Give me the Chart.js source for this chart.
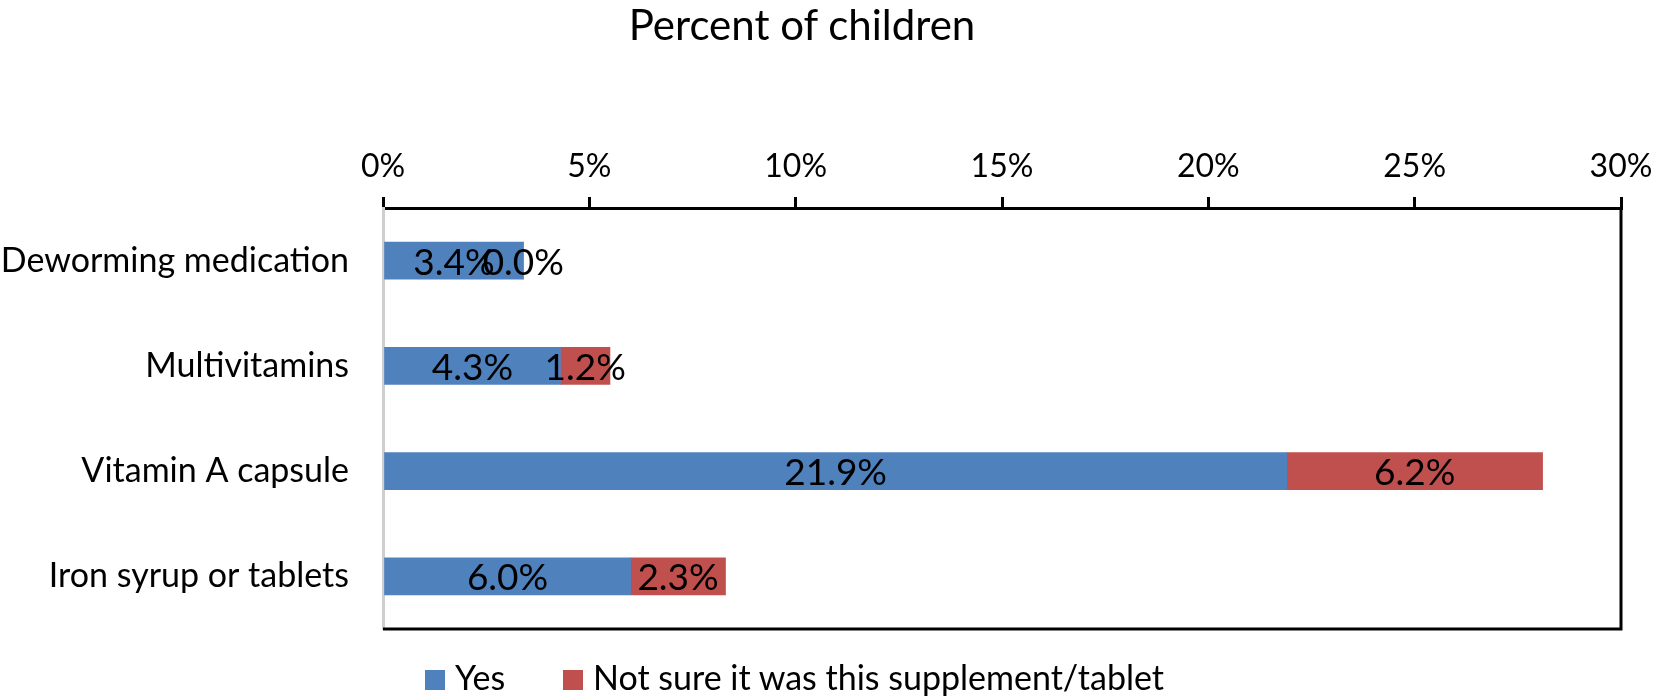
<!DOCTYPE html>
<html lang="en">

<head>
    <meta charset="UTF-8">
    <title>Supplements</title>
    <style>
        body {
            margin: 0;
            background: #fff;
            font-family: Lato, sans-serif;
        }

        .wrap {
            position: relative;
            width: 1654px;
            height: 700px;
        }

        .title {
            position: absolute;
            top: 0;
            left: 802px;
            transform: translateX(-50%);
            font-size: 42px;
            line-height: 48px;
            white-space: nowrap;
        }

        .legend .item {
            position: absolute;
            top: 657px;
            font-size: 34px;
            line-height: 40px;
            white-space: nowrap;
        }

        .legend span.box {
            display: inline-block;
            width: 20px;
            height: 20px;
            margin-right: 10px;
        }
    </style>
    <script src="https://cdn.jsdelivr.net/npm/chart.js"></script>
</head>

<body>
    <div class="wrap">
        <canvas id="chart" width="1654" height="700"></canvas>
        <div class="title">Percent of children</div>
        <div class="legend" id="legend"></div>
    </div>

    <script>
        const categories = ['Deworming medication', 'Multivitamins', 'Vitamin A capsule', 'Iron syrup or tablets'];
        const yesValues = [3.4, 4.3, 21.9, 6.0];
        const notSureValues = [0.0, 1.2, 6.2, 2.3];
        const seriesNames = ['Yes', 'Not sure it was this supplement/tablet'];
        const seriesColors = ['#4F81BD', '#C0504D'];
        const xTicks = [0, 5, 10, 15, 20, 25, 30];
        const legendLeft = [425, 563];

        // bar labels, drawn in the middle of each segment
        const barLabels = {
            id: 'barLabels',
            afterDatasetsDraw(chart) {
                const ctx = chart.ctx;
                ctx.save();
                ctx.font = '37px Lato';
                ctx.fillStyle = '#000';
                ctx.textAlign = 'center';
                ctx.textBaseline = 'middle';
                chart.data.datasets.forEach((ds, i) => {
                    chart.getDatasetMeta(i).data.forEach((bar, j) => {
                        const x = (bar.x + bar.base) / 2;
                        ctx.fillText(ds.data[j].toFixed(1) + '%', x, bar.y + 2);
                    });
                });
                ctx.restore();
            }
        };

        // black frame on the right and bottom
        const frame = {
            id: 'frame',
            afterDraw(chart) {
                const a = chart.chartArea;
                const ctx = chart.ctx;
                ctx.save();
                ctx.strokeStyle = '#000';
                ctx.lineWidth = 3;
                ctx.beginPath();
                ctx.moveTo(a.right, a.top);
                ctx.lineTo(a.right, a.bottom);
                ctx.lineTo(a.left, a.bottom);
                ctx.stroke();
                ctx.restore();
            }
        };

        new Chart(document.getElementById('chart'), {
            type: 'bar',
            data: {
                labels: categories,
                datasets: [
                    { label: seriesNames[0], data: yesValues, backgroundColor: seriesColors[0], barThickness: 37 },
                    { label: seriesNames[1], data: notSureValues, backgroundColor: seriesColors[1], barThickness: 37 }
                ]
            },
            options: {
                indexAxis: 'y',
                responsive: false,
                animation: false,
                layout: { padding: { left: 0, top: 0, right: 33, bottom: 71 } },
                plugins: {
                    legend: { display: false },
                    tooltip: { enabled: false }
                },
                scales: {
                    x: {
                        position: 'top',
                        stacked: true,
                        min: 0,
                        max: 30,
                        afterBuildTicks(axis) {
                            axis.ticks = xTicks.map(v => ({ value: v }));
                        },
                        afterFit(axis) {
                            axis.height = 208;
                            axis.paddingRight = 0;
                            axis.paddingLeft = 0;
                        },
                        ticks: {
                            callback: v => v + '%',
                            color: '#000',
                            font: { family: 'Lato', size: 32 },
                            padding: 11,
                            maxRotation: 0
                        },
                        grid: { drawOnChartArea: false, color: '#000', lineWidth: 3, tickLength: 11 },
                        border: { color: '#000', width: 3 }
                    },
                    y: {
                        stacked: true,
                        afterFit(axis) { axis.width = 383; },
                        ticks: {
                            color: '#000',
                            font: { family: 'Lato', size: 34 },
                            padding: 34
                        },
                        grid: { display: false, drawTicks: false },
                        border: { color: '#cfcfcf', width: 3 }
                    }
                }
            },
            plugins: [barLabels, frame]
        });

        const legend = document.getElementById('legend');
        seriesNames.forEach((name, i) => {
            const item = document.createElement('div');
            item.className = 'item';
            item.style.left = legendLeft[i] + 'px';
            item.innerHTML = '<span class="box" style="background:' + seriesColors[i] + '"></span>' + name;
            legend.appendChild(item);
        });
    </script>
</body>

</html>
